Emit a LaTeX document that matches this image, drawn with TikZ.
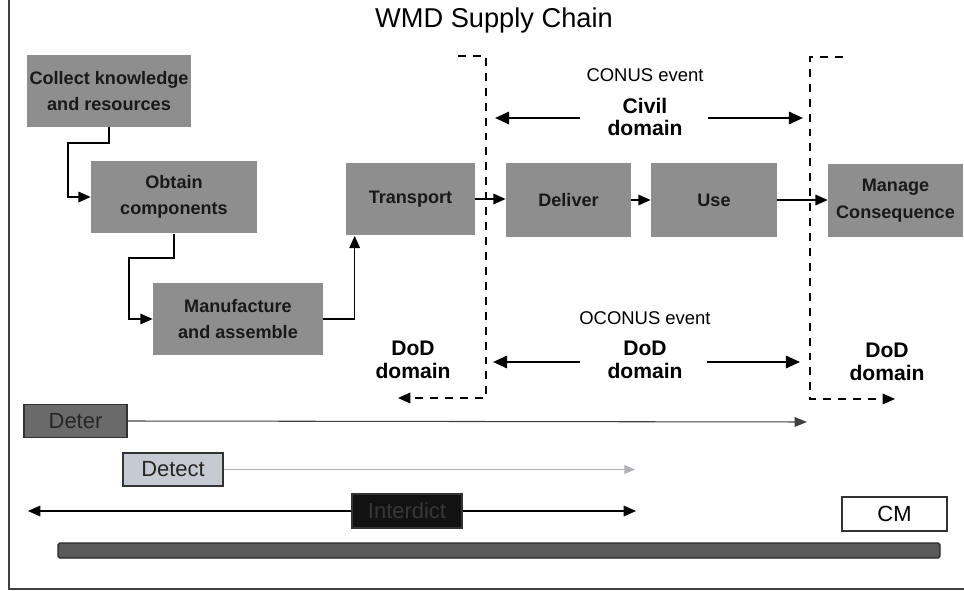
\documentclass[tikz,border=0pt]{standalone}
\usepackage{fontspec}
\setmainfont{Liberation Sans}
\usetikzlibrary{arrows.meta,calc}
\definecolor{boxgray}{HTML}{8E8E8E}
\definecolor{detergray}{HTML}{6A6A6A}
\definecolor{detectfill}{HTML}{C6CAD2}
\definecolor{bargray}{HTML}{5A5A5A}
\tikzset{
  procbox/.style={fill=boxgray, draw=none, align=center, inner sep=0pt,
    font=\bfseries\fontsize{10.3}{15}\selectfont, text=black!90},
  flow/.style={line width=0.9pt, -{Triangle[length=7pt,width=6pt]}},
  dsh/.style={line width=0.9pt, dash pattern=on 4.5pt off 4pt, -{Triangle[length=7pt,width=6pt]}},
  domarrow/.style={line width=1.3pt, -{Triangle[length=8pt,width=7pt]}},
  domlabel/.style={align=center, font=\bfseries\fontsize{12}{13}\selectfont},
  evlabel/.style={font=\fontsize{10.5}{12}\selectfont},
  barbox/.style={draw=black!80, line width=0.6pt, minimum height=0.66cm, inner sep=0pt,
    font=\fontsize{12.5}{14}\selectfont},
}
\begin{document}
\begin{tikzpicture}[x=0.02cm,y=-0.02cm]
\useasboundingbox (0,0) rectangle (964,591);
% frame
\draw[black!75, line width=0.8pt] (9,0) -- (9,589) -- (964,589);
% title
\node[font=\fontsize{15.5}{18}\selectfont] (title) at (494,20) {WMD Supply Chain};
% process boxes
\node[procbox, minimum width=3.3cm, minimum height=1.44cm] (collect) at (109,91) {Collect knowledge\\and resources};
\node[procbox, minimum width=3.32cm, minimum height=1.46cm] (obtain) at (174,197) {Obtain\\components};
\node[procbox, minimum width=3.4cm, minimum height=1.44cm] (manuf) at (238,319) {Manufacture\\and assemble};
\node[procbox, minimum width=2.58cm, minimum height=1.46cm] (transport) at (410.5,199) {Transport};
\node[procbox, minimum width=2.5cm, minimum height=1.48cm] (deliver) at (568.5,200) {Deliver};
\node[procbox, minimum width=2.52cm, minimum height=1.48cm] (use) at (714,200) {Use};
\node[procbox, minimum width=2.7cm, minimum height=1.46cm] (manage) at (895.5,200.5) {Manage\\Consequence};
% flow connectors
\draw[flow] (collect.south) |- (68,143) |- (obtain.west);
\draw[flow] (obtain.south) |- (129,258) |- (manuf.west);
\draw[flow] (manuf.east) -| ([xshift=0.18cm]transport.south west);
\draw[flow] (transport.east) -- (transport.east -| deliver.west);
\draw[flow] (deliver.east) -- (deliver.east -| use.west);
\draw[flow] (use.east) -- (use.east -| manage.west);
% dashed domain boundaries
\coordinate (l1) at (458,56);
\coordinate (l2) at (486,56);
\coordinate (l3) at (486,398);
\coordinate (l4) at (398,398);
\draw[dsh] (l1) -- (l2) -- (l3) -- (l4);
\coordinate (r1) at (843,57);
\coordinate (r2) at (810,57);
\coordinate (r3) at (810,399);
\coordinate (r4) at (895,399);
\draw[dsh] (r1) -- (r2) -- (r3) -- (r4);
% CONUS
\node[evlabel] (conus) at (645,75) {CONUS event};
\node[domlabel] (civil) at (645,117) {Civil\\domain};
\coordinate (ca1) at (580,118);
\coordinate (ca2) at (495,118);
\coordinate (cb1) at (708,118);
\coordinate (cb2) at (803,118);
\draw[domarrow] (ca1) -- (ca2);
\draw[domarrow] (cb1) -- (cb2);
% OCONUS
\node[evlabel] (oconus) at (645,318) {OCONUS event};
\node[domlabel] (dodc) at (645,360) {DoD\\domain};
\coordinate (oa1) at (580,362);
\coordinate (oa2) at (493,362);
\coordinate (ob1) at (707,362);
\coordinate (ob2) at (800,362);
\draw[domarrow] (oa1) -- (oa2);
\draw[domarrow] (ob1) -- (ob2);
\node[domlabel] (dodl) at (413,360) {DoD\\domain};
\node[domlabel] (dodr) at (887,362) {DoD\\domain};
% bottom strategies
\node[barbox, fill=detergray, minimum width=2.06cm, text=black!85] (deter) at (75.5,421) {Deter};
\coordinate (deterend) at (807,422);
\draw[black!75, line width=0.6pt, -{Triangle[length=7pt,width=5.5pt]}] (deter.east) -- (deterend);
\node[barbox, fill=detectfill, minimum width=2cm, text=black!85] (detect) at (173,469.5) {Detect};
\coordinate (detectend) at (635,469.5);
\draw[black!30, line width=0.6pt, -{Triangle[length=6pt,width=5pt, fill=blue!10!black!30]}] (detect.east) -- (detectend);
\node[barbox, fill=black!93, minimum width=2.2cm, minimum height=0.68cm, text=black!78] (intd) at (407,511) {Interdict};
\coordinate (intl) at (28,511);
\coordinate (intr) at (636,511);
\draw[black, line width=0.7pt, -{Triangle[length=7pt,width=6pt]}] (intd.west) -- (intl);
\draw[black, line width=0.7pt, -{Triangle[length=7pt,width=6pt]}] (intd.east) -- (intr);
\node[barbox, fill=white, minimum width=2.1cm, minimum height=0.68cm] (cm) at (894.5,514) {CM};
\node[draw=black!85, fill=bargray, line width=0.7pt, rounded corners=1pt, minimum width=17.64cm, minimum height=0.3cm, inner sep=0pt] (bar) at (499,550.5) {};
\end{tikzpicture}
\end{document}
